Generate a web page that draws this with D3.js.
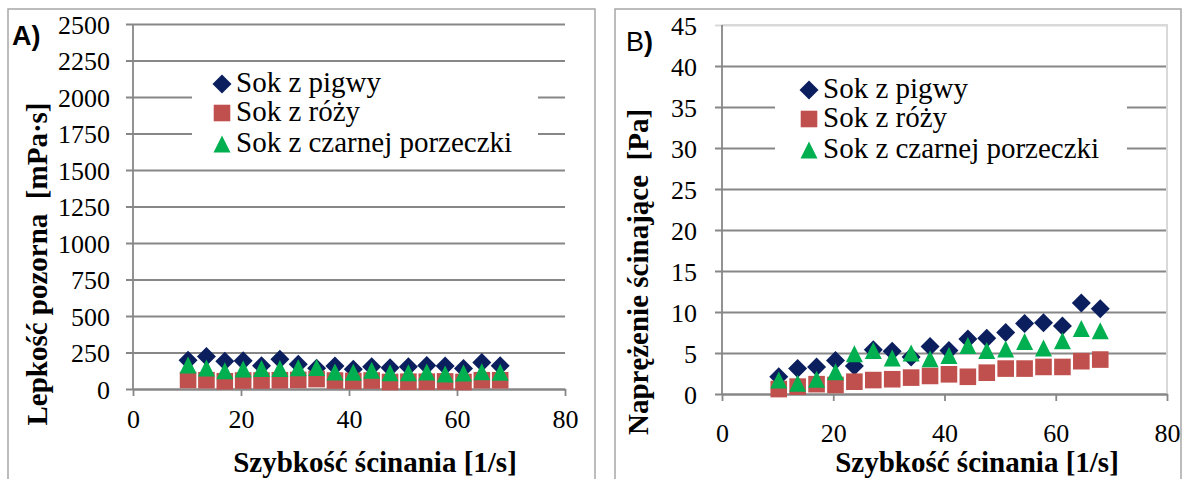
<!DOCTYPE html>
<html>
<head>
<meta charset="utf-8">
<script src="https://cdn.jsdelivr.net/npm/d3@7"></script>
<style>
  body { margin: 0; background: #fff; }
  svg { display: block; }
</style>
</head>
<body>
<svg id="chart" width="1185" height="479"></svg>
<script>
// shear rate [1/s], same for every series
const shearRate = [10.2, 13.6, 17.0, 20.4, 23.8, 27.2, 30.6, 34.0, 37.4, 40.8, 44.2, 47.6, 51.0, 54.4, 57.8, 61.2, 64.6, 68.0];

const seriesNames = ['Sok z pigwy', 'Sok z róży', 'Sok z czarnej porzeczki'];

// A) apparent viscosity [mPa·s]
const viscPigwa = [197, 222, 190, 194, 160, 203, 170, 142, 158, 135, 152, 146, 152, 161, 157, 140, 182, 160];
const viscRoza = [62, 60, 53, 58, 58, 60, 62, 68, 58, 55, 58, 48, 50, 50, 52, 48, 60, 60];
const viscPorzeczka = [164, 143, 125, 137, 140, 140, 146, 148, 117, 114, 128, 111, 111, 117, 102, 109, 119, 114];

// B) shear stress [Pa]
const stressPigwa = [2.1, 3.1, 3.3, 4.1, 3.4, 5.4, 5.2, 4.5, 5.8, 5.3, 6.7, 6.8, 7.5, 8.6, 8.7, 8.3, 11.1, 10.4];
const stressRoza = [0.6, 0.9, 1.2, 1.1, 1.5, 1.7, 1.8, 2.0, 2.2, 2.4, 2.1, 2.6, 3.1, 3.1, 3.3, 3.3, 4.0, 4.2];
const stressPorzeczka = [1.7, 1.3, 1.8, 2.7, 4.9, 5.3, 4.4, 5.0, 4.3, 4.7, 5.9, 5.3, 5.5, 6.4, 5.6, 6.5, 8.0, 7.7];

const xTicks = [0, 20, 40, 60, 80];
const yTicksA = [0, 250, 500, 750, 1000, 1250, 1500, 1750, 2000, 2250, 2500];
const yTicksB = [0, 5, 10, 15, 20, 25, 30, 35, 40, 45];

const SERIF = '"Liberation Serif", "Times New Roman", serif';
const SANS = '"Liberation Sans", Arial, sans-serif';

const colors = {
    pigwa: '#0b1f5e',
    roza: '#c0504d',
    porzeczka: '#00b050',
    grid: '#878787',
    frame: '#a6a6a6',
    light: '#d9d9d9'
};

// excel-like markers, centred on their bounding box
const diamond = { draw(ctx, s) { ctx.moveTo(0, -s); ctx.lineTo(s, 0); ctx.lineTo(0, s); ctx.lineTo(-s, 0); ctx.closePath(); } };
const square = { draw(ctx, s) { ctx.rect(-s, -s, 2 * s, 2 * s); } };
const triangle = { draw(ctx, s) { ctx.moveTo(0, -s); ctx.lineTo(s, s); ctx.lineTo(-s, s); ctx.closePath(); } };

const markers = [
    { shape: diamond, size: 9.5, color: colors.pigwa },
    { shape: square, size: 8.3, color: colors.roza },
    { shape: triangle, size: 8.5, color: colors.porzeczka }
];

const svg = d3.select('#chart');

function drawPanel(p) {
    const g = svg.append('g');

    // outer frame of the panel
    g.append('rect')
        .attr('x', p.frame[0]).attr('y', 9)
        .attr('width', p.frame[1] - p.frame[0]).attr('height', 520)
        .attr('fill', 'none').attr('stroke', colors.frame).attr('stroke-width', 1.5);

    const x = d3.scaleLinear().domain([0, 80]).range([p.left, p.right]);
    const y = d3.scaleLinear().domain(p.yDomain).range([p.bottom, p.top]);

    // horizontal gridlines with short ticks left of the axis
    const yAxis = g.append('g')
        .attr('transform', `translate(${p.left},0)`)
        .call(d3.axisLeft(y).tickValues(p.yTicks).tickSize(-(p.right - p.left)).tickPadding(p.yPad).tickFormat(d3.format('d')));
    yAxis.attr('font-family', null).attr('font-size', null);
    yAxis.select('.domain').remove();
    yAxis.selectAll('.tick line')
        .attr('x1', -7)
        .attr('stroke', d => (p.lightTop && d === p.yDomain[1]) ? colors.light : colors.grid)
        .attr('stroke-width', 1.8);
    yAxis.selectAll('.tick text')
        .style('font-family', SERIF)
        .style('font-size', '26px')
        .attr('fill', '#000')
        .attr('dy', '0.35em');

    if (p.lightTop) {
        g.append('line')
            .attr('x1', p.left).attr('x2', p.right + 1)
            .attr('y1', p.top).attr('y2', p.top)
            .attr('stroke', colors.light).attr('stroke-width', 2);
        g.append('line')
            .attr('x1', p.right).attr('x2', p.right)
            .attr('y1', p.top).attr('y2', p.bottom)
            .attr('stroke', colors.light).attr('stroke-width', 2);
    }

    // legend box hides the gridlines behind it
    g.append('rect')
        .attr('x', p.legend.x0).attr('y', p.legend.y0)
        .attr('width', p.legend.x1 - p.legend.x0).attr('height', p.legend.y1 - p.legend.y0)
        .attr('fill', '#fff');

    const xAxis = g.append('g')
        .attr('transform', `translate(0,${p.bottom})`)
        .call(d3.axisBottom(x).tickValues(xTicks).tickSize(7).tickPadding(p.xPad).tickSizeOuter(0));
    xAxis.attr('font-family', null).attr('font-size', null);
    xAxis.select('.domain').attr('stroke', colors.grid).attr('stroke-width', 1.8);
    xAxis.selectAll('.tick line').attr('stroke', colors.grid).attr('stroke-width', 1.8);
    xAxis.selectAll('.tick text')
        .style('font-family', SERIF)
        .style('font-size', '26px')
        .attr('fill', '#000');

    // y axis line
    g.append('line')
        .attr('x1', p.left).attr('x2', p.left)
        .attr('y1', p.top).attr('y2', p.bottom)
        .attr('stroke', colors.grid).attr('stroke-width', 1.8);

    // data points: diamonds first, then squares, triangles on top
    p.series.forEach((values, k) => {
        const m = markers[k];
        g.append('g').selectAll('path')
            .data(values)
            .join('path')
            .attr('transform', (d, i) => `translate(${x(shearRate[i])},${y(d)})`)
            .attr('d', d3.symbol().type(m.shape).size(m.size))
            .attr('fill', m.color);
    });

    // legend entries
    seriesNames.forEach((name, k) => {
        const m = markers[k];
        const cy = p.legend.rowY[k];
        g.append('path')
            .attr('transform', `translate(${p.legend.mx},${cy})`)
            .attr('d', d3.symbol().type(m.shape).size(m.size))
            .attr('fill', m.color);
        g.append('text')
            .attr('x', p.legend.tx).attr('y', cy + 8)
            .style('font-family', SERIF)
            .style('font-size', '29px')
            .text(name);
    });

    // axis titles
    g.append('text')
        .attr('x', p.xTitle[0]).attr('y', p.xTitle[1])
        .attr('text-anchor', 'middle')
        .style('font-family', SERIF)
        .style('font-size', '29px').style('font-weight', 'bold')
        .text('Szybkość ścinania [1/s]');

    g.append('text')
        .attr('transform', `translate(${p.yTitle[0]},${p.yTitle[1]}) rotate(-90)`)
        .attr('text-anchor', 'middle')
        .style('font-family', SERIF)
        .style('font-size', '29px').style('font-weight', 'bold')
        .style('white-space', 'pre')
        .text(p.yLabel);

    // panel letter
    const letter = g.append('text')
        .attr('x', p.letter[0]).attr('y', p.letter[1])
        .style('font-family', SANS)
        .style('font-size', '27px');
    letter.append('tspan').style('font-weight', p.letterBold ? 'bold' : 'normal').text(p.letterText);
    letter.append('tspan').style('font-weight', 'bold').text(')');
}

drawPanel({
    frame: [8, 595],
    left: 133, right: 565, top: 24, bottom: 389,
    yDomain: [0, 2500], yTicks: yTicksA, yPad: 23, xPad: 14,
    series: [viscPigwa, viscRoza, viscPorzeczka],
    legend: { x0: 192, x1: 538, y0: 66, y1: 164, mx: 222, tx: 236, rowY: [84, 113, 144] },
    xTitle: [375, 472],
    yTitle: [47, 264],
    yLabel: 'Lepkość pozorna  [mPa·s]',
    letter: [12, 45], letterText: 'A', letterBold: true,
    lightTop: false
});

drawPanel({
    frame: [615, 1181],
    left: 722, right: 1167, top: 25, bottom: 394,
    yDomain: [0, 45], yTicks: yTicksB, yPad: 25, xPad: 23,
    series: [stressPigwa, stressRoza, stressPorzeczka],
    legend: { x0: 775, x1: 1127, y0: 70, y1: 180, mx: 809, tx: 823, rowY: [90, 119, 150] },
    xTitle: [977, 472],
    yTitle: [648, 272],
    yLabel: 'Naprężenie ścinające  [Pa]',
    letter: [626, 51], letterText: 'B', letterBold: false,
    lightTop: true
});
</script>
</body>
</html>
